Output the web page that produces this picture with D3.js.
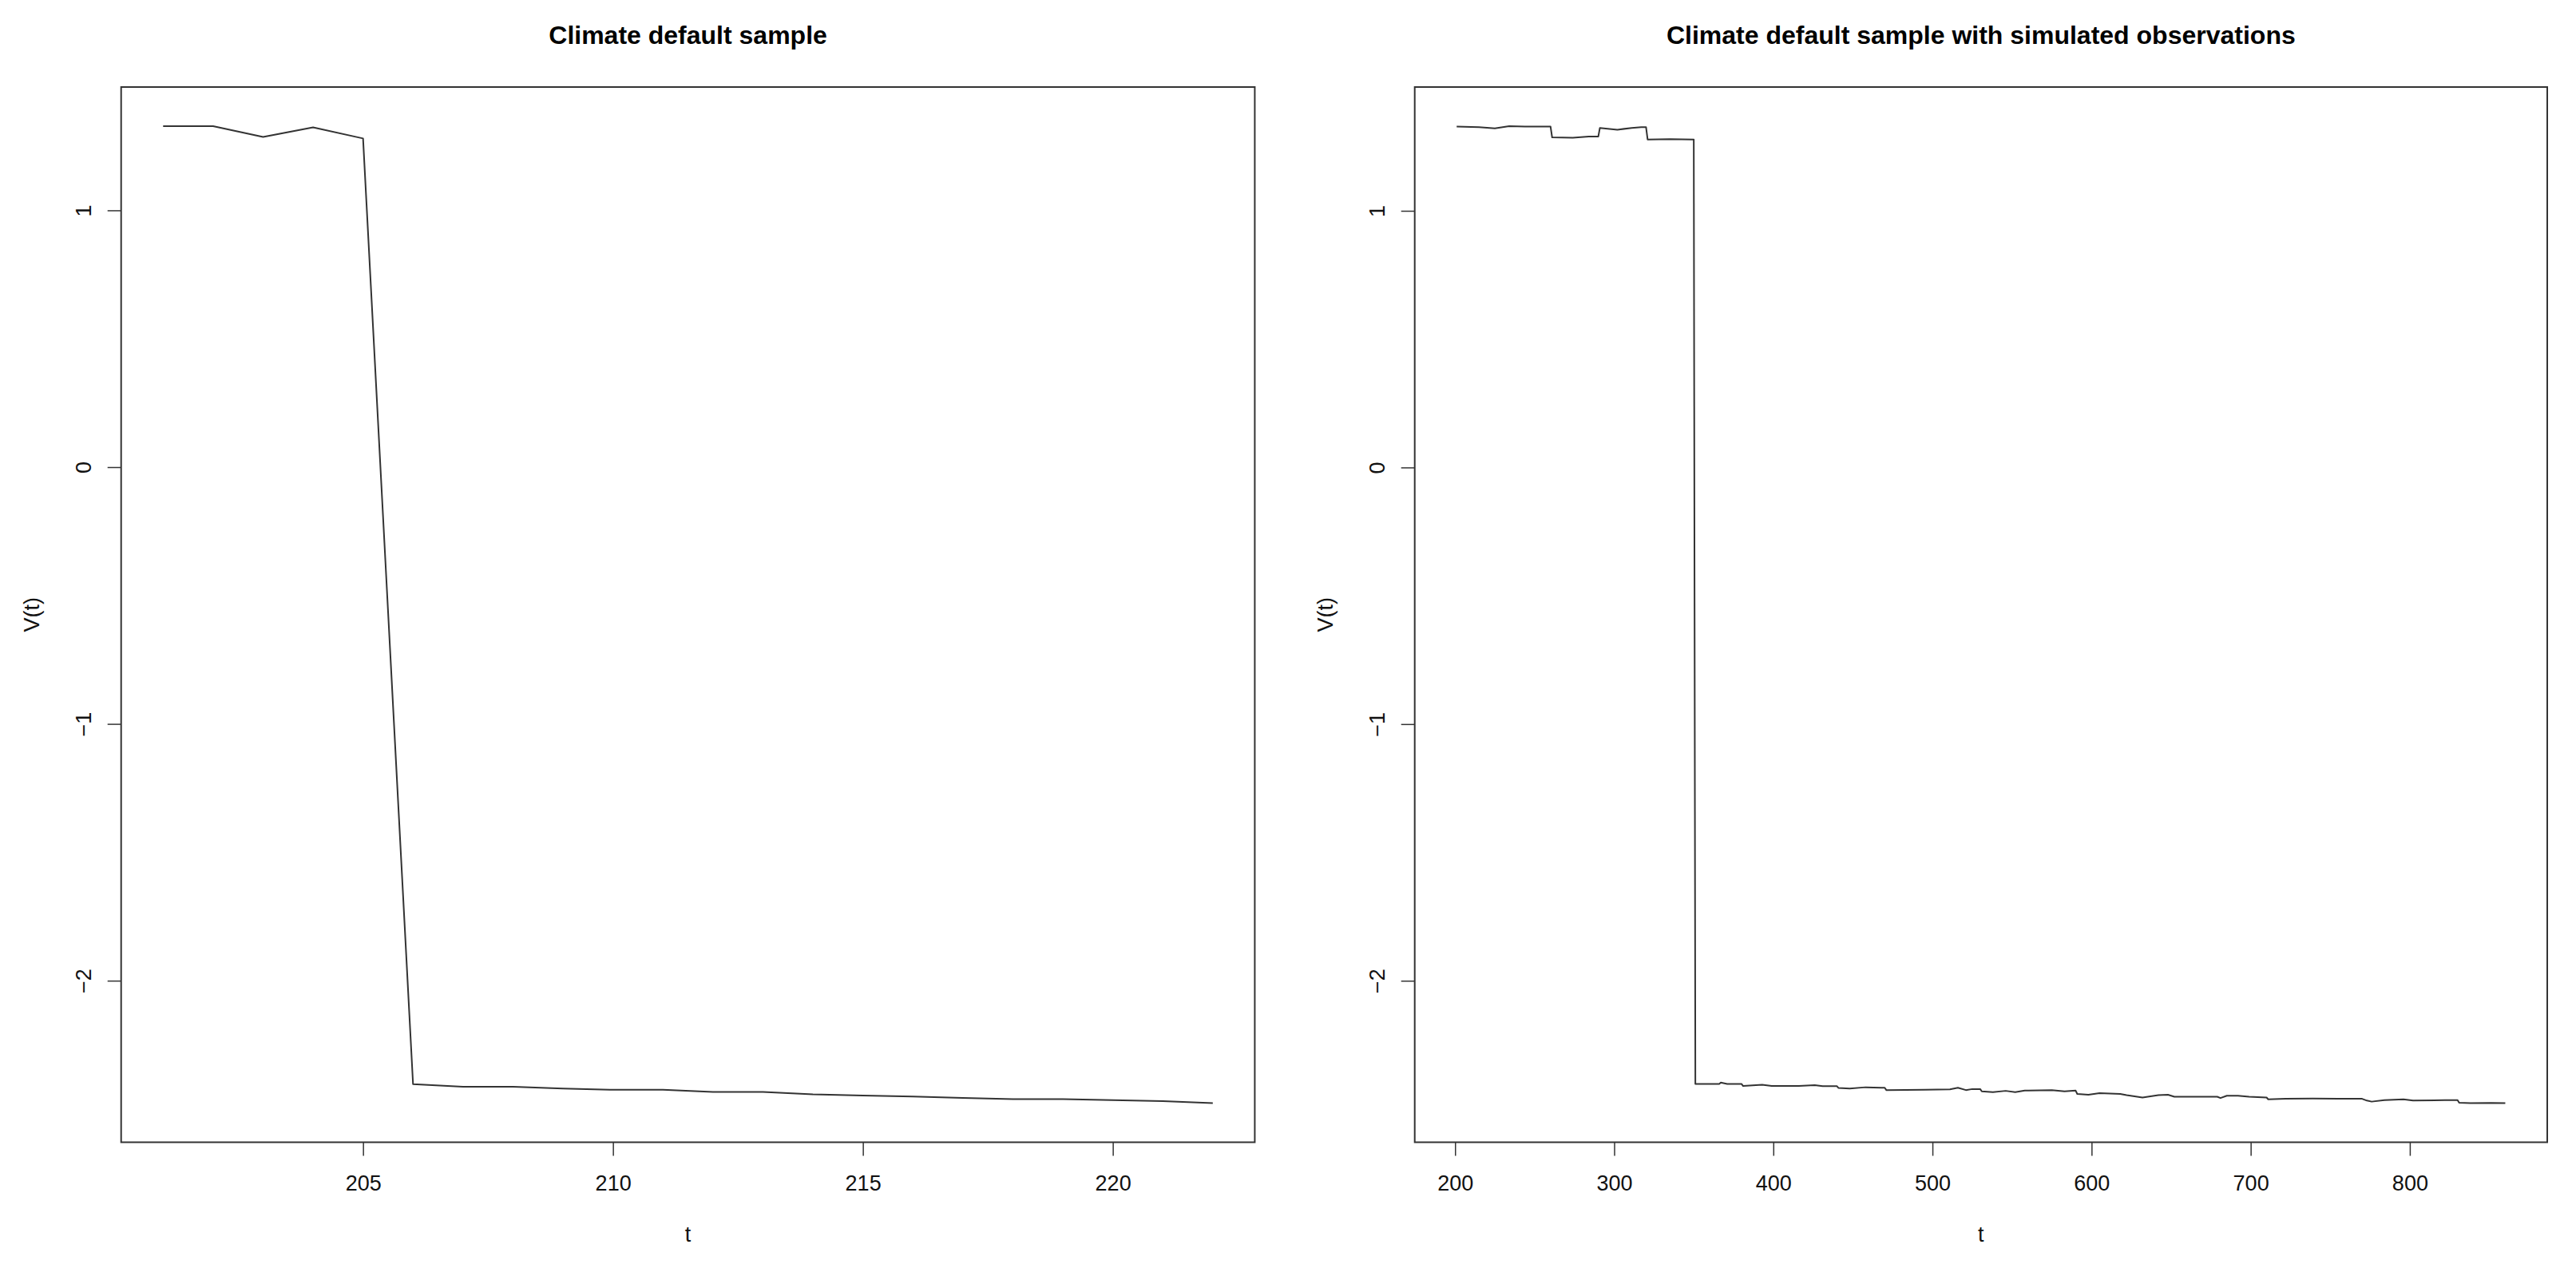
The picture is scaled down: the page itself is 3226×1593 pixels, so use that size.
<!DOCTYPE html>
<html>
<head>
<meta charset="utf-8">
<title>Climate default sample</title>
<script src="https://cdn.jsdelivr.net/npm/d3@7"></script>
<style>
    body{
        margin: 0;
        background: #ffffff;
    }
    svg text{
        font-family: "Liberation Sans", Arial, Helvetica, sans-serif;
        fill: #111;
    }
    .frame{
        fill: none;
        stroke: #333;
        stroke-width: 2px;
    }
    .series{
        fill: none;
        stroke: #333;
        stroke-width: 2px;
        stroke-linejoin: round;
    }
</style>
</head>
<body>
<script>
// left panel: the default sample, one value per time step
var sampleT = [201, 202, 203, 204, 205, 206, 207, 208, 209, 210, 211,
               212, 213, 214, 215, 216, 217, 218, 219, 220, 221, 222];
var sampleV = [1.328, 1.328, 1.286, 1.323, 1.280, -2.403, -2.413, -2.413, -2.420, -2.425, -2.425,
               -2.433, -2.433, -2.443, -2.447, -2.451, -2.457, -2.461, -2.461, -2.465, -2.469, -2.477];

// right panel: the same sample with simulated observations
var obsT = [201, 215, 225, 234, 244, 260, 261, 274, 284, 290, 291, 302, 311, 317, 320,
            321, 335, 350, 351, 366, 367, 371, 380, 381, 393, 399, 416, 426, 431, 440,
            441, 448, 458, 468, 470, 471, 495, 511, 516, 521, 525, 530, 531, 538, 546,
            552, 558, 575, 583, 590, 591, 598, 605, 618, 622, 632, 642, 648, 652, 679,
            681, 685, 692, 699, 710, 711, 722, 739, 755, 770, 773, 776, 784, 796, 802,
            822, 830, 831, 838, 851, 860];
var obsV = [1.328, 1.326, 1.321, 1.330, 1.328, 1.328, 1.286, 1.285, 1.289, 1.289, 1.323, 1.316, 1.323, 1.326, 1.326,
            1.278, 1.279, 1.278, -2.402, -2.402, -2.397, -2.402, -2.402, -2.410, -2.405, -2.410, -2.410, -2.407, -2.411, -2.411,
            -2.418, -2.420, -2.415, -2.417, -2.417, -2.426, -2.425, -2.423, -2.417, -2.426, -2.422, -2.422, -2.431, -2.434, -2.429,
            -2.434, -2.428, -2.426, -2.431, -2.428, -2.441, -2.444, -2.438, -2.441, -2.446, -2.455, -2.446, -2.444, -2.452, -2.452,
            -2.457, -2.448, -2.448, -2.452, -2.455, -2.462, -2.460, -2.459, -2.460, -2.460, -2.467, -2.471, -2.465, -2.462, -2.467,
            -2.465, -2.465, -2.475, -2.477, -2.476, -2.477];

var leftXTicks = [205, 210, 215, 220];
var rightXTicks = [200, 300, 400, 500, 600, 700, 800];
var yTicks = [-2, -1, 0, 1];

var titles = ["Climate default sample", "Climate default sample with simulated observations"];
var xLabel = "t";
var yLabel = "V(t)";

var W = 3226, H = 1593;
var top_ = 109, bottom_ = 1430.5;
var tickFont = 27, titleFont = 32;

var svg = d3.select("body").append("svg")
            .attr("width", W)
            .attr("height", H);

// R-style padding: 4% of the data range on each side
function padded(values){
    var e = d3.extent(values);
    var p = (e[1] - e[0]) * 0.04;
    return [e[0] - p, e[1] + p];
}

function drawPanel(tData, vData, xTicks, title, x0, x1){
    var g = svg.append("g");

    var xScale = d3.scaleLinear()
                   .domain(padded(tData))
                   .range([x0, x1]);
    var yScale = d3.scaleLinear()
                   .domain(padded(vData))
                   .range([bottom_, top_]);

    var pts = tData.map(function(t, i){ return [t, vData[i]]; });

    var line = d3.line()
                 .x(function(d){ return xScale(d[0]); })
                 .y(function(d){ return yScale(d[1]); });

    g.append("path")
     .datum(pts)
     .attr("class", "series")
     .attr("d", line);

    //------------x axis-------------
    var xAxis = g.append("g")
                 .attr("transform", "translate(0," + bottom_ + ")")
                 .call(d3.axisBottom(xScale)
                         .tickValues(xTicks)
                         .tickSize(17)
                         .tickPadding(24)
                         .tickFormat(d3.format("d")));
    xAxis.select(".domain").remove();
    xAxis.selectAll("line").attr("stroke", "#333").attr("stroke-width", 1.5);
    xAxis.selectAll("text")
         .attr("font-size", tickFont + "px")
         .attr("fill", "#111");

    //------------y axis-------------
    var yAxis = g.append("g")
                 .attr("transform", "translate(" + x0 + ",0)")
                 .call(d3.axisLeft(yScale)
                         .tickValues(yTicks)
                         .tickSize(17)
                         .tickFormat(d3.format("d")));
    yAxis.select(".domain").remove();
    yAxis.selectAll("line").attr("stroke", "#333").attr("stroke-width", 1.5);
    yAxis.selectAll("text")
         .attr("font-size", tickFont + "px")
         .attr("fill", "#111")
         .attr("transform", "rotate(-90)")
         .attr("x", 0)
         .attr("y", -38)
         .attr("dy", 0)
         .attr("text-anchor", "middle");

    // box round the plot
    g.append("rect")
     .attr("class", "frame")
     .attr("x", x0)
     .attr("y", top_)
     .attr("width", x1 - x0)
     .attr("height", bottom_ - top_);

    g.append("text")
     .text(title)
     .attr("x", (x0 + x1) / 2)
     .attr("y", 55)
     .attr("text-anchor", "middle")
     .attr("font-size", titleFont + "px")
     .attr("font-weight", "bold")
     .style("fill", "#000");

    g.append("text")
     .text(xLabel)
     .attr("x", (x0 + x1) / 2)
     .attr("y", bottom_ + 124.5)
     .attr("text-anchor", "middle")
     .attr("font-size", tickFont + "px");

    g.append("text")
     .text(yLabel)
     .attr("text-anchor", "middle")
     .attr("font-size", tickFont + "px")
     .attr("transform", "translate(" + (x0 - 103) + "," + ((top_ + bottom_) / 2) + ") rotate(-90)");
}

drawPanel(sampleT, sampleV, leftXTicks, titles[0], 151.7, 1571.4);
drawPanel(obsT, obsV, rightXTicks, titles[1], 1771.7, 3190);
</script>
</body>
</html>
